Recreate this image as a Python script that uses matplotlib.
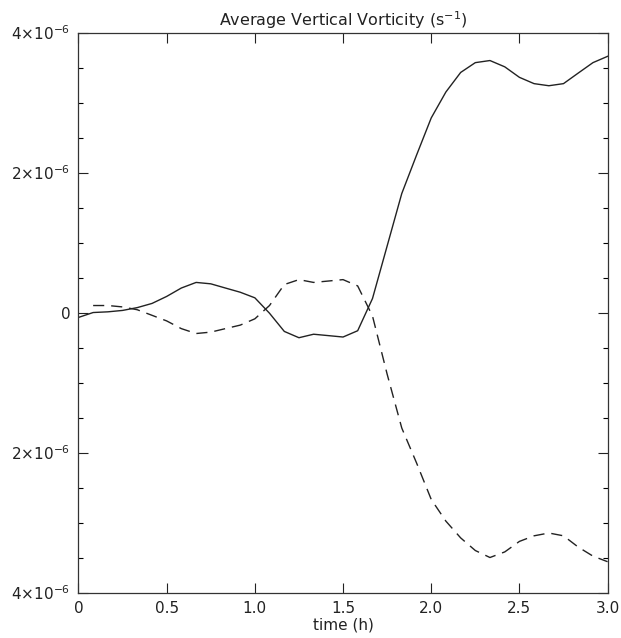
import matplotlib
matplotlib.use("Agg")
import matplotlib.pyplot as plt
import numpy as np

# time in hours (5 minute output)
time_h = [0.0, 0.083, 0.167, 0.25, 0.333, 0.417, 0.5, 0.583, 0.667, 0.75,
          0.833, 0.917, 1.0, 1.083, 1.167, 1.25, 1.333, 1.417, 1.5, 1.583,
          1.667, 1.75, 1.833, 1.917, 2.0, 2.083, 2.167, 2.25, 2.333, 2.417,
          2.5, 2.583, 2.667, 2.75, 2.833, 2.917, 3.0]

# average vertical vorticity, units of 1e-6 s^-1
vort_solid = [-0.07, 0.0, 0.01, 0.03, 0.07, 0.13, 0.23, 0.35, 0.43, 0.41,
              0.35, 0.29, 0.21, -0.01, -0.27, -0.36, -0.31, -0.33, -0.35, -0.26,
              0.20, 0.95, 1.70, 2.25, 2.78, 3.15, 3.43, 3.57, 3.60, 3.51,
              3.36, 3.27, 3.24, 3.27, 3.42, 3.57, 3.66]
vort_dashed = [np.nan, 0.10, 0.10, 0.08, 0.04, -0.04, -0.12, -0.23, -0.30, -0.28,
               -0.23, -0.18, -0.09, 0.10, 0.40, 0.47, 0.43, 0.45, 0.47, 0.38,
               -0.05, -0.88, -1.65, -2.15, -2.67, -2.98, -3.22, -3.40, -3.50, -3.42,
               -3.27, -3.19, -3.15, -3.19, -3.35, -3.48, -3.56]

x_ticks = [0, 0.5, 1.0, 1.5, 2.0, 2.5, 3.0]
x_ticklabels = ['0', '0.5', '1.0', '1.5', '2.0', '2.5', '3.0']
y_ticks = [-4e-6, -2e-6, 0, 2e-6, 4e-6]
y_ticklabels = [r'4$\times$10$^{-6}$', r'2$\times$10$^{-6}$', '0',
                r'2$\times$10$^{-6}$', r'4$\times$10$^{-6}$']

fig = plt.figure(figsize=(6.21, 6.38), dpi=100)
ax = fig.add_axes([0.1264, 0.0713, 0.852, 0.8777])

t = np.array(time_h)
ax.plot(t, np.array(vort_solid) * 1e-6, color='#222222', lw=1.0)
ax.plot(t, np.array(vort_dashed) * 1e-6, color='#222222', lw=1.0, dashes=(8, 5))

ax.set_xlim(0, 3.0)
ax.set_ylim(-4e-6, 4e-6)
ax.set_xticks(x_ticks)
ax.set_xticklabels(x_ticklabels)
ax.set_yticks(y_ticks)
ax.set_yticklabels(y_ticklabels)
ax.set_yticks(np.arange(-4e-6, 4.01e-6, 0.5e-6), minor=True)

ax.tick_params(axis='both', which='major', direction='in', length=7, width=0.8,
               top=True, right=True, labelsize=11, colors='#222222', pad=6)
ax.tick_params(axis='y', which='minor', direction='in', length=3.5, width=0.8,
               right=True)
for sp in ax.spines.values():
    sp.set_linewidth(0.9)
    sp.set_color('#333333')

ax.set_xlabel('time (h)', fontsize=11, color='#222222', labelpad=1)
ax.set_title(r'Average Vertical Vorticity (s$^{-1}$)', fontsize=11.5,
             color='#222222', pad=5)

fig.savefig('out.png', dpi=100)
